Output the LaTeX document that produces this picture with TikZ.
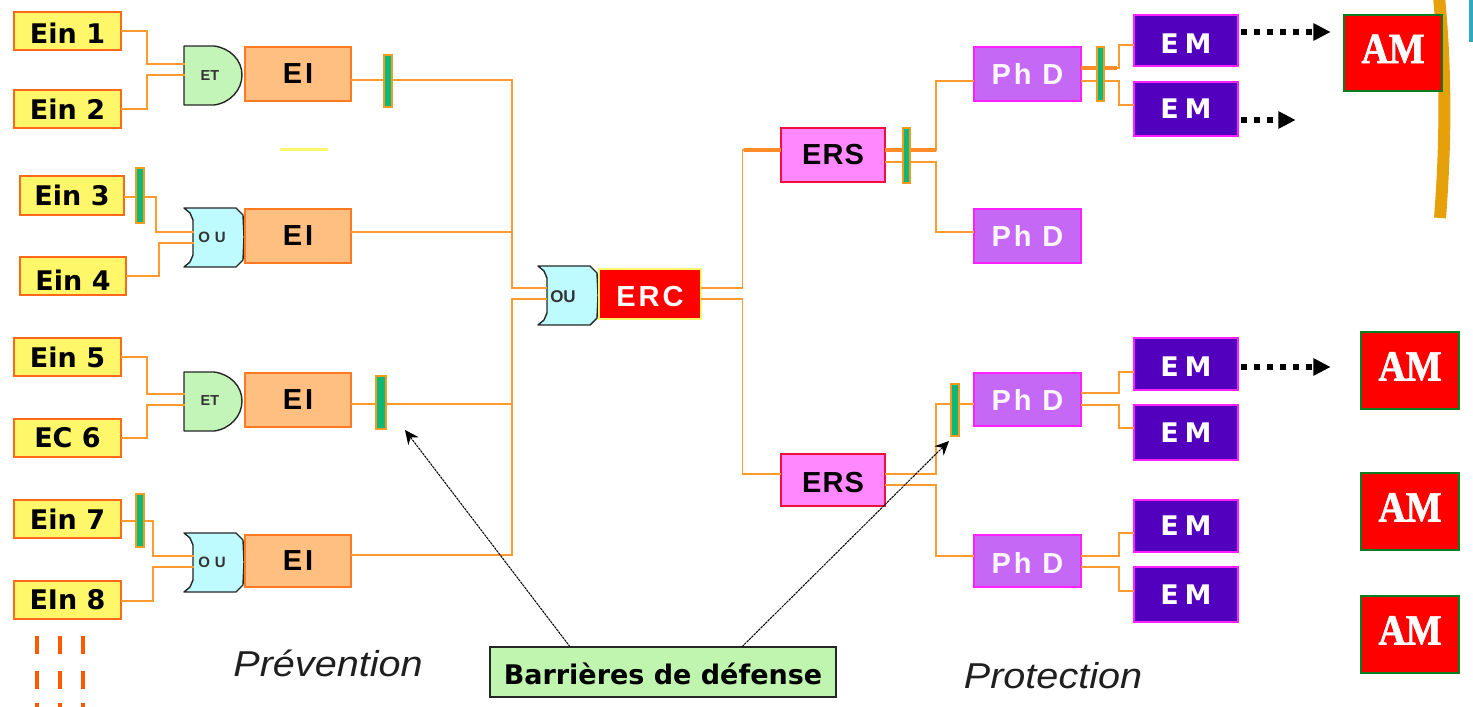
\documentclass[tikz,border=0pt]{standalone}
\usepackage{fontspec}
\setmainfont{Liberation Sans}
\newfontfamily\spaced[LetterSpace=10]{Liberation Sans}
\newfontfamily\spacedn[LetterSpace=4]{Liberation Sans}
\newfontfamily\dvw[LetterSpace=22]{DejaVu Sans}
\newfontfamily\dv{DejaVu Sans}
\newfontfamily\amfont[FakeStretch=0.88,FakeBold=1.5]{Liberation Serif}
\newfontfamily\capfont[FakeStretch=1.1]{Liberation Sans}
\usetikzlibrary{arrows.meta}
\definecolor{wirec}{HTML}{FF9A2E}
\definecolor{yel}{HTML}{FFF76A}
\definecolor{yelb}{HTML}{FF6A1A}
\definecolor{eif}{HTML}{FFBF80}
\definecolor{eib}{HTML}{FF7A20}
\definecolor{phf}{HTML}{C468F5}
\definecolor{mag}{HTML}{FF20FF}
\definecolor{emf}{HTML}{5200BE}
\definecolor{ersf}{HTML}{FF88FF}
\definecolor{ersb}{HTML}{F01040}
\definecolor{barf}{HTML}{0AB878}
\definecolor{barb}{HTML}{F59A20}
\definecolor{amb}{HTML}{0A7D1E}
\definecolor{etf}{HTML}{C4F5B8}
\definecolor{ouf}{HTML}{BDFBFF}
\definecolor{deff}{HTML}{BFF5AE}
\definecolor{arcc}{HTML}{E6A00A}
\definecolor{tealc}{HTML}{2FA8C0}
\tikzset{
  base/.style={inner sep=0pt,outer sep=0pt,line width=1.6pt,align=center},
  einbox/.style={base,draw=yelb,fill=yel,font=\dv\fontsize{27}{30}\selectfont\bfseries},
  eibox/.style={base,draw=eib,fill=eif,font=\spaced\fontsize{29}{30}\selectfont\bfseries},
  ercbox/.style={base,draw=yel,fill=red,text=white,font=\spaced\fontsize{29}{30}\selectfont\bfseries},
  ersbox/.style={base,draw=ersb,fill=ersf,font=\spacedn\fontsize{29}{30}\selectfont\bfseries},
  phdbox/.style={base,draw=mag,fill=phf,text=white!95!phf,font=\spaced\fontsize{29}{30}\selectfont\bfseries},
  embox/.style={base,draw=mag,fill=emf,text=white,font=\dvw\fontsize{27}{30}\selectfont\bfseries},
  ambox/.style={base,draw=amb,fill=red,text=white,font=\amfont\fontsize{43}{43}\selectfont\bfseries},
  barbox/.style={base,draw=barb,fill=barf,line width=2pt},
  defbox/.style={base,draw=black!85,fill=deff,font=\dv\fontsize{27}{30}\selectfont\bfseries},
  gatelabel/.style={inner sep=0pt,outer sep=0pt,text=black!80},
  gateshape/.style={draw=black!85,line width=1.4pt,line join=round},
  wire/.style={draw=wirec,line width=1.5pt},
  thickwire/.style={draw=wirec!90!red,line width=3.4pt},
  dots/.style={draw=black,line width=6pt,dash pattern=on 6pt off 7pt,-{Triangle[length=17pt,width=18pt,line width=0pt]}},
  pointer/.style={draw=black,line width=1pt,dash pattern=on 2.5pt off 0.8pt,-{Stealth[length=14pt,width=13pt]}},
  caption/.style={inner sep=0pt,font=\capfont\fontsize{36}{38}\selectfont\itshape,text=black!88},
  tick/.style={draw=orange!70!red,line width=4pt}
}
\newcommand{\bx}[7][]{\node[#2,minimum width={(#5-#3-1.5)*1pt},minimum height={(#6-#4-1.5)*1pt},#1] (#7) at ({(#3+#5)/2},{(#4+#6)/2})}
\newcommand{\etshape}[2]{\path[gateshape,fill=etf,shift={(#1,#2)}] (0,0) -- (30,0) .. controls (46,2) and (58,14) .. (58,29) .. controls (58,44) and (46,57) .. (30,59) -- (0,59) -- cycle;}
\newcommand{\oushape}[2]{\path[gateshape,fill=ouf,shift={(#1,#2)}] (0,0) -- (52,0) -- (59,7) -- (60,29) -- (59,52) -- (52,59) -- (0,59) -- (6,54) -- (9,47) -- (9,12) -- (6,5) -- cycle;}
\begin{document}
\begin{tikzpicture}[x=1pt,y=-1pt]
\useasboundingbox (0,0) rectangle (1473,707);
% arc and teal edge
\fill[tealc] (1469,0) rectangle (1473,42);
\draw[arcc,line width=12pt] (1439,-3) .. controls (1446,70) and (1446,140) .. (1440,218);
\draw[yel,line width=3pt] (280,149) -- (328,149);
% gates
\etshape{184}{46}\oushape{184}{208}\etshape{184}{372}\oushape{184}{533}\oushape{538}{266}
\bx{gatelabel,font=\fontsize{14.5}{14}\selectfont\bfseries}{184}{46}{236}{105}{g1}{ET};
\bx{gatelabel,font=\fontsize{15}{14}\selectfont\bfseries}{193}{208}{231}{267}{g2}{O\,\,U};
\bx{gatelabel,font=\fontsize{14.5}{14}\selectfont\bfseries}{184}{372}{236}{430}{g3}{ET};
\bx{gatelabel,font=\fontsize{15}{14}\selectfont\bfseries}{193}{533}{231}{591}{g4}{O\,\,U};
\bx{gatelabel,font=\fontsize{17}{15}\selectfont\bfseries}{546}{268}{580}{326}{g5}{OU};
% boxes
\bx[text height=25pt]{einbox}{13}{11}{122}{51}{e1}{Ein 1};
\bx{einbox}{13}{89}{122}{129}{e2}{Ein 2};
\bx{einbox}{19}{175}{125}{216}{e3}{Ein 3};
\bx[text height=28pt]{einbox}{19}{256}{127}{296}{e4}{Ein 4};
\bx{einbox}{13}{337}{122}{377}{e5}{Ein 5};
\bx{einbox}{13}{418}{122}{458}{e6}{EC 6};
\bx{einbox}{13}{499}{122}{539}{e7}{Ein 7};
\bx{einbox}{13}{580}{122}{620}{e8}{EIn 8};
\bx{eibox}{244}{46}{352}{102}{i1}{EI};
\bx{eibox}{244}{208}{352}{264}{i2}{EI};
\bx{eibox}{244}{372}{352}{428}{i3}{EI};
\bx{eibox}{244}{534}{352}{588}{i4}{EI};
\bx[text height=25pt]{ercbox}{598}{268}{702}{320}{erc}{ERC};
\bx{ersbox}{780}{127}{886}{183}{ers1}{ERS};
\bx[text height=25pt]{ersbox}{780}{453}{886}{507}{ers2}{ERS};
\bx{phdbox}{973}{46}{1082}{102}{p1}{Ph D};
\bx{phdbox}{973}{208}{1082}{264}{p2}{Ph D};
\bx{phdbox}{973}{372}{1082}{427}{p3}{Ph D};
\bx[text height=25pt]{phdbox}{973}{534}{1082}{588}{p4}{Ph D};
\bx[text height=25pt]{embox}{1133}{14}{1239}{67}{m1}{EM};
\bx{embox}{1133}{81}{1239}{137}{m2}{EM};
\bx[text height=25pt]{embox}{1133}{337}{1239}{391}{m3}{EM};
\bx{embox}{1133}{404}{1239}{461}{m4}{EM};
\bx{embox}{1133}{499}{1239}{553}{m5}{EM};
\bx{embox}{1133}{566}{1239}{623}{m6}{EM};
\bx[text height=20pt]{ambox}{1343}{14}{1443}{92}{a1}{AM};
\bx[text height=20pt]{ambox}{1360}{331}{1460}{410}{a2}{AM};
\bx[text height=20pt]{ambox}{1360}{472}{1460}{551}{a3}{AM};
\bx[text height=20pt]{ambox}{1360}{595}{1460}{674}{a4}{AM};
\bx[text height=25pt]{defbox}{489}{646}{837}{698}{def}{Barrières de défense};
% wires
\draw[wire] (e1.east) -- ++(25.75,0) |- ([yshift=11.5pt]g1.west);
\draw[wire] (e2.east) -- ++(25.75,0) |- ([yshift=0.5pt]g1.west);
\draw[wire] ([yshift=-1.5pt]e3.east) -- ++(31.75,0) |- ([yshift=5.5pt]g2.west);
\draw[wire] (e4.east) -- ++(32.75,0) |- ([yshift=-5.5pt]g2.west);
\draw[wire] (e5.east) -- ++(25.75,0) |- ([yshift=7pt]g3.west);
\draw[wire] (e6.east) -- ++(25.75,0) |- ([yshift=-4pt]g3.west);
\draw[wire] ([yshift=-2pt]e7.east) -- ++(31.75,0) |- ([yshift=6pt]g4.west);
\draw[wire] ([yshift=-1pt]e8.east) -- ++(31.75,0) |- ([yshift=-5pt]g4.west);
\draw[wire] ([yshift=-6pt]i1.east) -- ++(160.75,0) |- ([yshift=9pt]g5.west);
\draw[wire] ([yshift=4pt]i2.east) -- ++(160.75,0);
\draw[wire] ([yshift=-4pt]i3.east) -- ++(160.75,0);
\draw[wire] ([yshift=6pt]i4.east) -- ++(160.75,0) |- ([yshift=-2pt]g5.west);
\draw[wire] ([yshift=6pt]erc.east) -- ++(41.25,0) |- ([yshift=5pt]ers1.west);
\draw[wire] ([yshift=-5pt]erc.east) -- ++(41.25,0) |- ([yshift=6pt]ers2.west);
\draw[thickwire] ([yshift=5pt]ers1.west) -- ++(-37,0);
\draw[wire] ([yshift=5pt]ers1.east) -- ++(50.75,0) |- ([yshift=-7pt]p1.west);
\draw[thickwire] ([yshift=5pt]ers1.east) -- ++(50.75,0);
\draw[wire] ([yshift=-7pt]ers1.east) -- ++(50.75,0) |- ([yshift=4pt]p2.west);
\draw[wire] ([yshift=6pt]ers2.east) -- ++(50.75,0) |- ([yshift=-4.5pt]p3.west);
\draw[wire] ([yshift=-5pt]ers2.east) -- ++(50.75,0) |- ([yshift=5pt]p4.west);
\draw[wire] ([yshift=6pt]p1.east) -- ++(37.75,0) |- ([yshift=-4.5pt]m1.west);
\draw[thickwire] ([yshift=6pt]p1.east) -- ++(35.75,0);
\draw[wire] ([yshift=-7pt]p1.east) -- ++(37.75,0) |- ([yshift=4pt]m2.west);
\draw[wire] ([yshift=6.5pt]p3.east) -- ++(37.75,0) |- ([yshift=-8pt]m3.west);
\draw[wire] ([yshift=-5.5pt]p3.east) -- ++(37.75,0) |- ([yshift=4.5pt]m4.west);
\draw[wire] ([yshift=5pt]p4.east) -- ++(37.75,0) |- ([yshift=-7pt]m5.west);
\draw[wire] ([yshift=-6pt]p4.east) -- ++(37.75,0) |- ([yshift=3.5pt]m6.west);
% barriers
\bx{barbox}{135}{167}{145}{224}{b1}{};
\bx{barbox}{383}{54}{393}{108}{b2}{};
\bx{barbox}{135}{493}{145}{548}{b3}{};
\bx{barbox}{375}{375}{387}{430}{b4}{};
\bx{barbox}{902}{127}{911}{184}{b5}{};
\bx{barbox}{1096}{46}{1105}{102}{b6}{};
\bx{barbox}{950}{383}{960}{437}{b7}{};
% dotted arrows
\draw[dots] ([xshift=3pt,yshift=8.5pt]m1.east) -- ++(89,0);
\draw[dots] ([xshift=3pt,yshift=-11pt]m2.east) -- ++(54,0);
\draw[dots] ([xshift=3pt,yshift=-3pt]m3.east) -- ++(89,0);
% pointers
\coordinate (t1) at (405,430);
\coordinate (t2) at (949,441);
\draw[pointer] ([xshift=-93pt]def.north) -- (t1);
\draw[pointer] ([xshift=79pt]def.north) -- (t2);
% captions
\node[caption] (prev) at (328,663) {Prévention};
\node[caption] (prot) at (1053,676) {Protection};
% dashes
\foreach \xx in {37,60,83}{
  \draw[tick] (\xx,636) -- (\xx,654);
  \draw[tick] (\xx,671) -- (\xx,689);
  \draw[tick] (\xx,703) -- (\xx,707);
}
\end{tikzpicture}
\end{document}
